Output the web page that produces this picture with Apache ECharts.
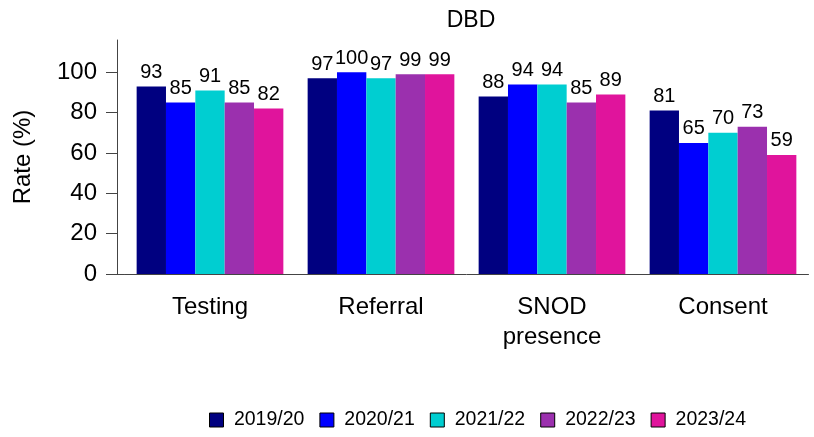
<!DOCTYPE html>
<html>
<head>
<meta charset="utf-8">
<script src="https://cdn.jsdelivr.net/npm/echarts@6/dist/echarts.min.js"></script>
<style>html,body{margin:0;padding:0;background:#fff;}#c{width:814px;height:437px;}</style>
</head>
<body>
<div id="c"></div>
<script>
const categories = ['Testing', 'Referral', 'SNOD\npresence', 'Consent'];
const seriesNames = ['2019/20', '2020/21', '2021/22', '2022/23', '2023/24'];
const v2019 = [93, 97, 88, 81];
const v2020 = [85, 100, 94, 65];
const v2021 = [91, 97, 94, 70];
const v2022 = [85, 99, 85, 73];
const v2023 = [82, 99, 89, 59];
const yTicks = [0, 20, 40, 60, 80, 100];
const colors = ['#000080', '#0000FF', '#00CED1', '#9B30AE', '#E0149C'];
const values = [v2019, v2020, v2021, v2022, v2023];
const font = '"Liberation Sans", Arial, sans-serif';
const yOffset = 7.5;

const chart = echarts.init(document.getElementById('c'), null, {renderer: 'canvas'});
chart.setOption({
  animation: false,
  textStyle: {fontFamily: font},
  title: {
    text: 'DBD', left: 466, top: 4, textAlign: 'center',
    textStyle: {fontFamily: font, fontSize: 23, fontWeight: 'normal', color: '#000'}
  },
  legend: {
    left: 209, top: 410, padding: 0, itemWidth: 14, itemHeight: 14, itemGap: 15,
    icon: 'rect',
    formatter: function (n) { return ' ' + n; },
    textStyle: {fontFamily: font, fontSize: 19.5, color: '#000'},
    itemStyle: {borderColor: '#000', borderWidth: 1},
    data: seriesNames
  },
  grid: {left: 124.5, right: 5.5, top: 40, bottom: 163, containLabel: false},
  xAxis: {
    type: 'category', data: categories,
    axisLine: {lineStyle: {color: '#444', width: 1}},
    axisTick: {alignWithLabel: true, length: 11, lineStyle: {color: '#444'}},
    axisLabel: {fontFamily: font, fontSize: 24, color: '#000', margin: 18, lineHeight: 30}
  },
  yAxis: {
    type: 'value', min: 0, max: 116, interval: 20, offset: yOffset,
    name: 'Rate (%)', nameLocation: 'middle', nameRotate: 90, nameGap: 82,
    nameTextStyle: {fontFamily: font, fontSize: 24, color: '#000'},
    splitLine: {show: false},
    axisLine: {show: true, lineStyle: {color: '#444', width: 1}},
    axisTick: {show: true, length: 11, customValues: yTicks, lineStyle: {color: '#444'}},
    axisLabel: {fontFamily: font, fontSize: 24, color: '#000', margin: 20, customValues: yTicks}
  },
  series: seriesNames.map((n, i) => ({
    name: n, type: 'bar', data: values[i],
    barGap: '0%', barCategoryGap: '14.2%',
    itemStyle: {color: colors[i]},
    label: {show: true, position: 'top', distance: 4, fontFamily: font, fontSize: 20, color: '#000'}
  }))
});
// extend x-axis line to meet the offset y-axis
const y0 = chart.convertToPixel({yAxisIndex: 0}, 0);
const rect = chart.getModel().getComponent('grid', 0).coordinateSystem.getRect();
const yLine = Math.round(y0) + 0.5;
chart.setOption({
  graphic: [{
    type: 'line', silent: true,
    shape: {x1: rect.x - yOffset, y1: yLine, x2: rect.x, y2: yLine},
    style: {stroke: '#444', lineWidth: 1}
  }]
});
</script>
</body>
</html>
